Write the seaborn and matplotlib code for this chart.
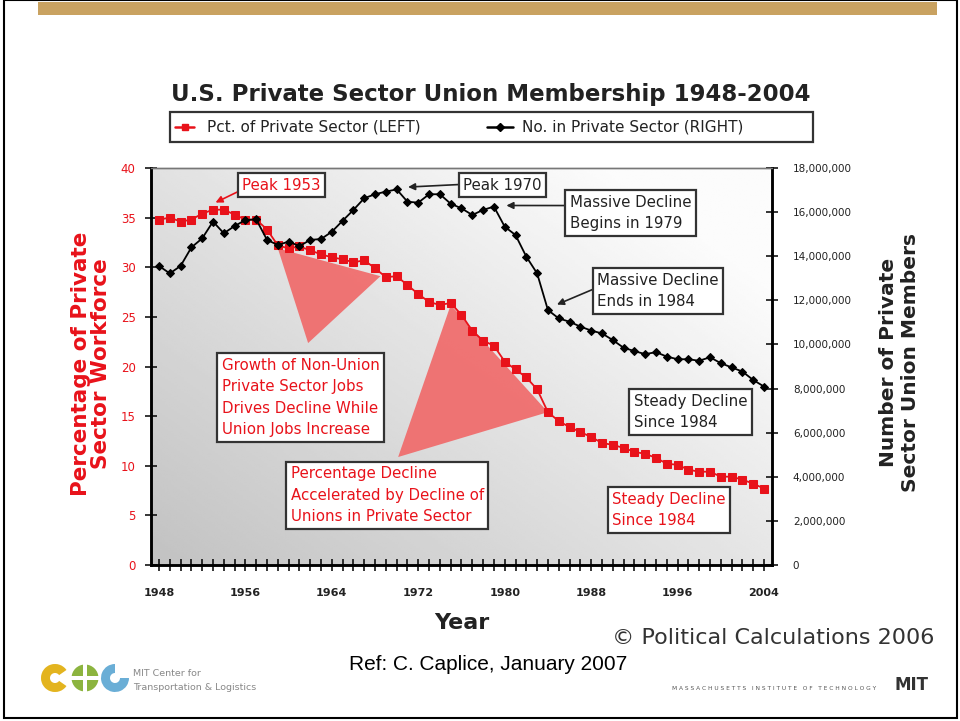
import numpy as np
import pandas as pd
import matplotlib
matplotlib.use("Agg")
import matplotlib.pyplot as plt
import matplotlib.ticker as mticker
from matplotlib.patches import Rectangle, Polygon, Circle, Wedge
from matplotlib.lines import Line2D
import seaborn as sns

# ---------------- data ----------------
years = list(range(1948, 2005))
pct_private = [34.8, 35.0, 34.6, 34.8, 35.4, 35.8, 35.8, 35.3, 34.8, 34.8,
               33.8, 32.2, 31.9, 32.1, 31.7, 31.3, 31.0, 30.8, 30.5, 30.7,
               29.9, 29.0, 29.1, 28.2, 27.3, 26.5, 26.2, 26.4, 25.2, 23.6,
               22.6, 22.1, 20.5, 19.7, 18.9, 17.7, 15.4, 14.5, 13.9, 13.4,
               12.9, 12.3, 12.1, 11.8, 11.4, 11.2, 10.8, 10.2, 10.1, 9.6,
               9.4, 9.4, 8.9, 8.9, 8.6, 8.2, 7.7]
members_private = [13.56, 13.22, 13.56, 14.40, 14.81, 15.57, 15.04, 15.37, 15.64, 15.67,
                   14.74, 14.51, 14.66, 14.46, 14.74, 14.78, 15.11, 15.61, 16.10, 16.63,
                   16.81, 16.93, 17.03, 16.47, 16.43, 16.81, 16.81, 16.38, 16.17, 15.87,
                   16.10, 16.25, 15.34, 14.96, 13.98, 13.22, 11.56, 11.18, 11.03, 10.81,
                   10.63, 10.50, 10.20, 9.85, 9.70, 9.56, 9.65, 9.45, 9.33, 9.33,
                   9.26, 9.42, 9.15, 8.96, 8.77, 8.39, 8.09]
members_private = [v * 1e6 for v in members_private]
left_ticks = [0, 5, 10, 15, 20, 25, 30, 35, 40]
right_ticks = [0, 2e6, 4e6, 6e6, 8e6, 10e6, 12e6, 14e6, 16e6, 18e6]
year_ticks = [1948, 1956, 1964, 1972, 1980, 1988, 1996, 2004]
series_labels = ["Pct. of Private Sector (LEFT)", "No. in Private Sector (RIGHT)"]

df = pd.DataFrame({"year": years, "pct": pct_private, "members": members_private})

RED = "#e8121a"
DARK = "#222222"
sns.set_theme(style="white")
plt.rcParams["font.family"] = ["DejaVu Sans"]

W, H = 960, 721
fig = plt.figure(figsize=(9.6, 7.21), dpi=100)
fig.patch.set_facecolor("white")

def fx(px):
    return px / W

def fy(py):
    return 1 - py / H

# slide frame and gold bar
fig.add_artist(Rectangle((fx(4), fy(718)), fx(953), 718 / H, transform=fig.transFigure,
                         fill=False, edgecolor="black", lw=1.5))
fig.add_artist(Rectangle((fx(38), fy(15)), fx(899), 13 / H, transform=fig.transFigure,
                         facecolor="#c9a261", edgecolor="none"))

# ---------------- main axes ----------------
ax = fig.add_axes([fx(151), fy(565), fx(621), 397 / H])
xlim = (1947.26, 2004.74)
ylim = (0, 40)

# gradient background of plot area
gx, gy = np.meshgrid(np.linspace(0, 1, 200), np.linspace(0, 1, 200))
t = np.clip(0.62 * gx + 0.55 * gy, 0, 1)
light, dark = 0.985, 0.76
grad = dark + (light - dark) * t
ax.imshow(grad, extent=[0, 1, 0, 1], transform=ax.transAxes, origin="lower",
          cmap="gray", vmin=0, vmax=1, aspect="auto", zorder=0, interpolation="bilinear")

sns.lineplot(data=df, x="year", y="pct", ax=ax, color=RED, marker="s", markersize=5.5,
             markeredgecolor=RED, linewidth=1.3, zorder=4, legend=False)
ax.set_xlim(*xlim)
ax.set_ylim(*ylim)

ax2 = ax.twinx()
sns.lineplot(data=df, x="year", y="members", ax=ax2, color="black", marker="D", markersize=4.2,
             markeredgecolor="black", linewidth=1.3, zorder=4, legend=False)
ax2.set_ylim(0, 18e6)
ax2.set_xlim(*xlim)

# ticks
ax.set_xticks(year_ticks)
ax.set_xticks(years, minor=True)
ax.set_yticks(left_ticks)
ax2.set_yticks(right_ticks)
ax2.yaxis.set_major_formatter(mticker.FuncFormatter(lambda v, p: f"{int(v):,}"))
ax.tick_params(axis="x", which="both", direction="inout", length=8, width=1.1, color="black",
               labelsize=8, labelcolor=DARK, pad=12.5, bottom=True)
ax.tick_params(axis="y", which="both", direction="inout", length=8, width=1.1, color="black",
               labelsize=8.5, labelcolor=RED, pad=7, left=True)
ax2.tick_params(axis="y", direction="inout", length=8, width=1.1, color="black",
                labelsize=7.5, labelcolor=DARK, pad=11, right=True)
for lab in ax.get_xticklabels():
    lab.set_fontweight("bold")

for a in (ax, ax2):
    a.set_xlabel("")
    a.set_ylabel("")
    for s in ("left", "right", "bottom"):
        a.spines[s].set_color("black")
        a.spines[s].set_linewidth(1.8)
    a.spines["top"].set_color("#777777")
    a.spines["top"].set_linewidth(1.0)

# ---------------- callout triangles ----------------
def axfrac_to_data(fxa, fya):
    return (xlim[0] + fxa * (xlim[1] - xlim[0]), ylim[0] + fya * (ylim[1] - ylim[0]))

def pct_of(y):
    return pct_private[years.index(y)]

tri1 = [(1959, pct_of(1959) - 0.3), (1968.5, pct_of(1969) + 0.1), axfrac_to_data(0.253, 0.559)]
tri2 = [(1975, pct_of(1975) - 0.2), (1984, pct_of(1984)), axfrac_to_data(0.398, 0.272)]
for tri in (tri1, tri2):
    ax.add_patch(Polygon(tri, closed=True, facecolor="#f06a6a", edgecolor="none",
                         alpha=0.92, zorder=2))

# ---------------- annotation boxes ----------------
box = dict(boxstyle="square,pad=0.3", facecolor="white", edgecolor="#333333", linewidth=1.6)
afs = 10.8
ls = 1.55
arrow = dict(arrowstyle="-|>", color=DARK, lw=1.2, mutation_scale=10, shrinkA=0, shrinkB=2)

ax.annotate("Peak 1953", xy=(1953, pct_of(1953) + 0.6), xytext=(0.147, 0.957),
            textcoords="axes fraction", ha="left", va="center", fontsize=afs, color=RED,
            bbox=box, zorder=6,
            arrowprops=dict(arrow, color=RED, relpos=(0, 0.2)))
ax2.annotate("Peak 1970", xy=(1970.8, members_private[years.index(1970)] + 0.1e6),
             xytext=(0.503, 0.957), textcoords="axes fraction", ha="left", va="center",
             fontsize=afs, color=DARK, bbox=box, zorder=6,
             arrowprops=dict(arrow, relpos=(0, 0.55)))
ax2.annotate("Massive Decline\nBegins in 1979",
             xy=(1979.9, members_private[years.index(1979)] + 0.05e6),
             xytext=(0.674, 0.887), textcoords="axes fraction", ha="left", va="center",
             fontsize=afs, color=DARK, bbox=box, linespacing=ls, zorder=6,
             arrowprops=dict(arrow, relpos=(0, 0.7)))
ax2.annotate("Massive Decline\nEnds in 1984",
             xy=(1984.6, members_private[years.index(1984)] + 0.2e6),
             xytext=(0.719, 0.690), textcoords="axes fraction", ha="left", va="center",
             fontsize=afs, color=DARK, bbox=box, linespacing=ls, zorder=6,
             arrowprops=dict(arrow, relpos=(0, 0.6)))
ax2.text(0.114, 0.422, "Growth of Non-Union\nPrivate Sector Jobs\nDrives Decline While\nUnion Jobs Increase",
         transform=ax2.transAxes, ha="left", va="center", fontsize=afs, color=RED,
         bbox=box, linespacing=ls, zorder=6)
ax2.text(0.225, 0.176, "Percentage Decline\nAccelerated by Decline of\nUnions in Private Sector",
         transform=ax2.transAxes, ha="left", va="center", fontsize=afs, color=RED,
         bbox=box, linespacing=ls, zorder=6)
ax2.text(0.777, 0.385, "Steady Decline\nSince 1984", transform=ax2.transAxes, ha="left",
         va="center", fontsize=afs, color=DARK, bbox=box, linespacing=ls, zorder=6)
ax2.text(0.743, 0.139, "Steady Decline\nSince 1984", transform=ax2.transAxes, ha="left",
         va="center", fontsize=afs, color=RED, bbox=box, linespacing=ls, zorder=6)

# ---------------- titles, labels ----------------
fig.text(fx(491), fy(95), "U.S. Private Sector Union Membership 1948-2004", ha="center",
         va="center", fontsize=16.5, color=DARK, fontweight="semibold")
fig.text(fx(91), fy(364), "Percentage of Private\nSector Workforce", rotation=90, ha="center",
         va="center", fontsize=15.5, color=RED, fontweight="bold", linespacing=0.95)
fig.text(fx(900), fy(362), "Number of Private\nSector Union Members", rotation=90, ha="center",
         va="center", fontsize=14.5, color=DARK, fontweight="bold", linespacing=1.2)
fig.text(fx(462), fy(623), "Year", ha="center", va="center", fontsize=16, fontweight="bold",
         color=DARK)
fig.text(fx(934), fy(638), "\u00a9 Political Calculations 2006", ha="right", va="center",
         fontsize=16, color="#333333")
fig.text(fx(488), fy(665), "Ref: C. Caplice, January 2007", ha="center", va="center",
         fontsize=15, color="black", family="Liberation Sans")

# ---------------- legend (drawn in figure coords) ----------------
fig.add_artist(Rectangle((fx(170), fy(142)), fx(643), 30 / H, transform=fig.transFigure,
                         facecolor="white", edgecolor="#333333", lw=1.6))
fig.add_artist(Line2D([fx(175), fx(194)], [fy(127), fy(127)], transform=fig.transFigure,
                      color=RED, lw=1.8))
fig.add_artist(Line2D([fx(184.5)], [fy(127)], transform=fig.transFigure, color=RED,
                      marker="s", markersize=4.5, lw=0))
fig.add_artist(Line2D([fx(487), fx(513)], [fy(127), fy(127)], transform=fig.transFigure,
                      color="black", lw=1.8))
fig.add_artist(Line2D([fx(500)], [fy(127)], transform=fig.transFigure, color="black",
                      marker="D", markersize=4, lw=0))
fig.text(fx(207), fy(127), series_labels[0], ha="left", va="center", fontsize=11, color=DARK)
fig.text(fx(522), fy(127), series_labels[1], ha="left", va="center", fontsize=11, color=DARK)

# ---------------- logos (approximate) ----------------
lax = fig.add_axes([fx(40), fy(693), fx(90), 30 / H])
lax.set_xlim(0, 90)
lax.set_ylim(0, 30)
lax.set_aspect("equal")
lax.axis("off")
lax.add_patch(Wedge((15, 15), 14, 35, 325, width=9, facecolor="#e3b41f", edgecolor="none"))
lax.add_patch(Circle((45, 15), 13.5, facecolor="#8cb43f", edgecolor="none"))
lax.add_patch(Rectangle((43, 1), 4, 28, facecolor="white", edgecolor="none"))
lax.add_patch(Rectangle((31, 13), 28, 4, facecolor="white", edgecolor="none"))
lax.add_patch(Wedge((75, 15), 14, 90, 360, width=9, facecolor="#6aaed6", edgecolor="none"))
fig.text(fx(133), fy(673), "MIT Center for", fontsize=6.8, color="#888888", va="center")
fig.text(fx(133), fy(687), "Transportation & Logistics", fontsize=6.8, color="#888888", va="center")
fig.text(fx(876), fy(689), "M A S S A C H U S E T T S   I N S T I T U T E   O F   T E C H N O L O G Y",
         ha="right", va="center", fontsize=4.2, color="#555555")
fig.text(fx(929), fy(685), "MIT", ha="right", va="center", fontsize=12, fontweight="bold",
         color="#333333")

fig.savefig("out.png", dpi=100)
